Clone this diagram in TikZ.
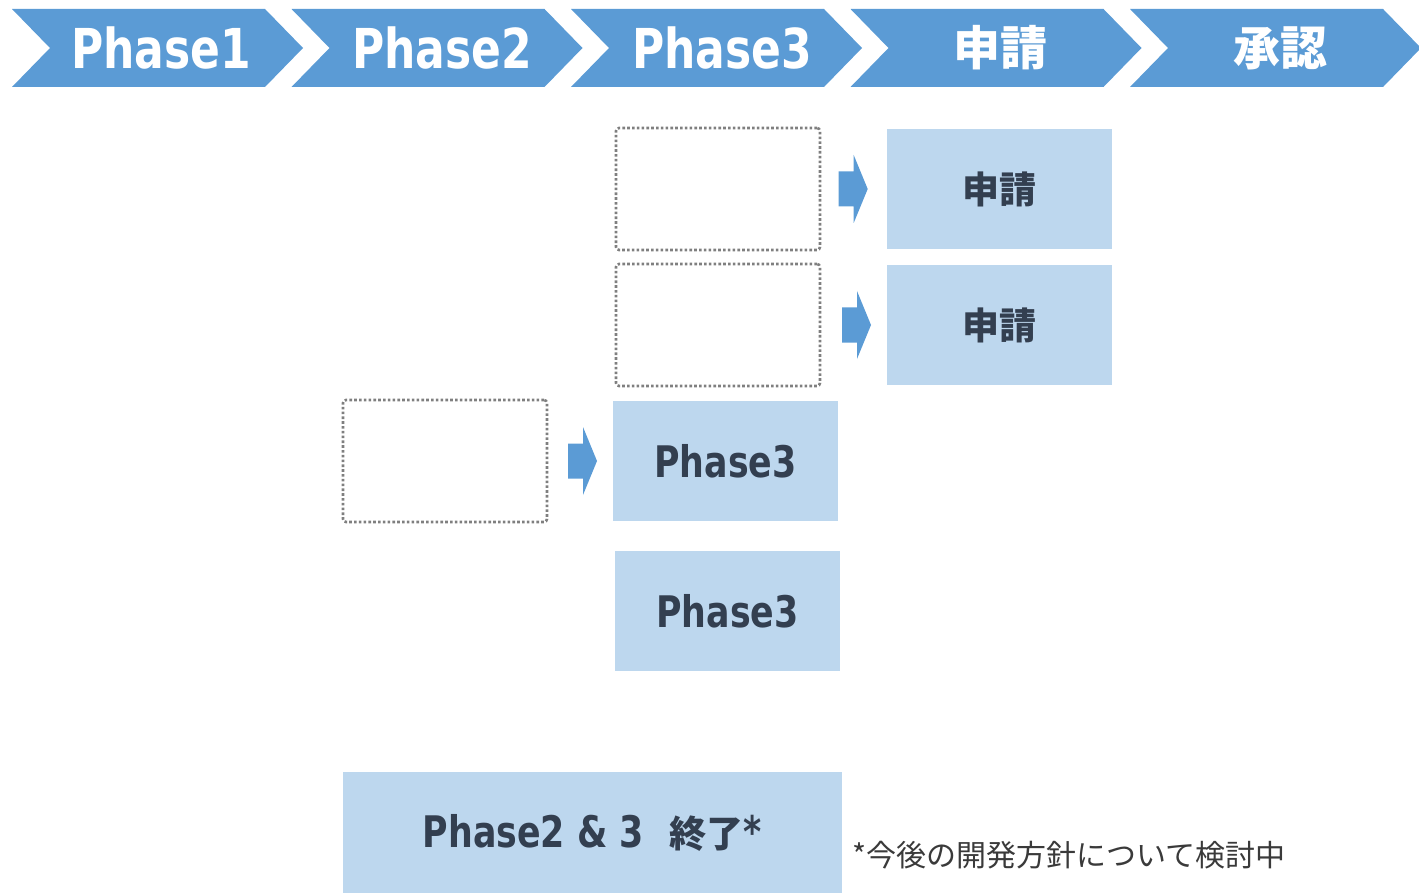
\documentclass[tikz,border=0pt]{standalone}
\usepackage{fontspec}
\newfontfamily\lat[FakeStretch=0.8]{DejaVu Sans}
\newfontfamily\jp{Noto Sans CJK JP}
\definecolor{chevblue}{HTML}{5B9BD5}
\definecolor{lightblue}{HTML}{BDD7EE}
\definecolor{darktext}{HTML}{333F50}
\definecolor{dotgray}{HTML}{7F7F7F}
\definecolor{notegray}{HTML}{3A3A3A}
\tikzset{
  chevshape/.style={fill=chevblue},
  chevtext/.style={text=white, font=\lat\bfseries\fontsize{55}{60}\selectfont, inner sep=0pt},
  chevjp/.style={text=white, font=\jp\bfseries\fontsize{47}{50}\selectfont, inner sep=0pt},
  bluebox/.style={fill=lightblue, text=darktext, minimum width=225pt, minimum height=120pt, inner sep=0pt},
  boxlat/.style={font=\lat\bfseries\fontsize{43.5}{46}\selectfont},
  boxjp/.style={font=\jp\bfseries\fontsize{37}{40}\selectfont},
  dotbox/.style={draw=dotgray, line width=2.6pt, dash pattern=on 2.6pt off 2.2pt, rounded corners=3pt, minimum width=204pt, minimum height=122pt, inner sep=0pt},
  blockarrow/.style={fill=chevblue}
}
\newcommand\chev[1]{\fill[chevshape] (#1,9) -- ++(253,0) -- ++(38,39) -- ++(-38,39) -- ++(-253,0) -- ++(38,-39) -- cycle;}
\newcommand\barrow[2]{\fill[blockarrow] (#1,#2-17.5) -- (#1+15,#2-17.5) -- (#1+15,#2-34) -- (#1+29,#2) -- (#1+15,#2+34) -- (#1+15,#2+17.5) -- (#1,#2+17.5) -- cycle;}
\begin{document}
\begin{tikzpicture}[x=1pt,y=-1pt]
\useasboundingbox (0,0) rectangle (1419,893);
% chevrons
\chev{12}\chev{291.5}\chev{571}\chev{850.5}\chev{1130}
\node[chevtext] (c1) at (161,48) {Phase1};
\node[chevtext] (c2) at (442,48) {Phase2};
\node[chevtext] (c3) at (722,48) {Phase3};
\node[chevjp] (c4) at (1000,48) {申請};
\node[chevjp] (c5) at (1280,48) {承認};
% dotted boxes
\node[dotbox] (d1) at (718,189) {};
\node[dotbox] (d2) at (718,325) {};
\node[dotbox] (d3) at (445,461) {};
% blue boxes
\node[bluebox, boxjp] (s1) at (999.5,189) {申請};
\node[bluebox, boxjp] (s2) at (999.5,325) {申請};
\node[bluebox, boxlat] (p1) at (725.5,461) {Phase3};
\node[bluebox, boxlat] (p2) at (727.5,611) {Phase3};
\node[fill=lightblue, text=darktext, minimum width=499pt, minimum height=121pt, inner sep=0pt] (e) at (592.5,832.5)
  {{\lat\bfseries\fontsize{43.5}{46}\selectfont Phase2 \& 3}\hspace{26pt}{\jp\bfseries\fontsize{37}{40}\selectfont 終了}{\lat\bfseries\fontsize{43.5}{46}\selectfont *}};
% block arrows
\barrow{838.7}{189}
\barrow{842}{325}
\barrow{568}{461}
% footnote
\node[anchor=west, text=notegray, font=\jp\fontsize{30}{33}\selectfont, inner sep=0pt] (note) at (852,855) {*今後の開発方針について検討中};
\end{tikzpicture}
\end{document}
